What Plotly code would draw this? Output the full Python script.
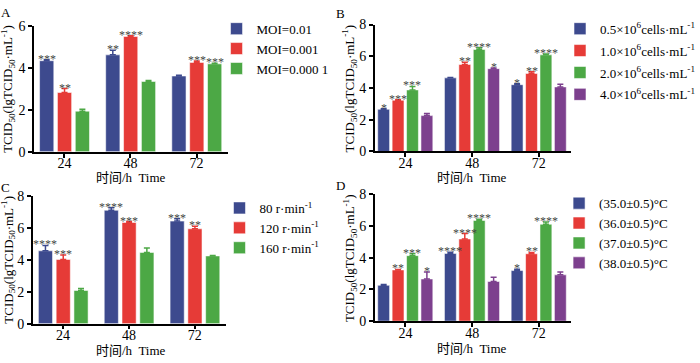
import plotly.graph_objects as go

categories = ["24", "48", "72"]

# Panel A
a_names = ["MOI=0.01", "MOI=0.001", "MOI=0.000 1"]
a_vals = [[4.35, 4.63, 3.62], [2.83, 5.51, 4.27], [1.94, 3.36, 4.20]]
a_errs = [[0.05, 0.22, 0.03], [0.19, 0.03, 0.07], [0.09, 0.04, 0.03]]
a_sigs = [["***", "**", ""], ["**", "****", "***"], ["", "", "***"]]

# Panel B
b_names = ["0.5×10<sup>6</sup>cells·mL<sup>-1</sup>", "1.0×10<sup>6</sup>cells·mL<sup>-1</sup>",
           "2.0×10<sup>6</sup>cells·mL<sup>-1</sup>", "4.0×10<sup>6</sup>cells·mL<sup>-1</sup>"]
b_vals = [[2.66, 4.64, 4.21], [3.23, 5.48, 4.92], [3.88, 6.43, 6.09], [2.26, 5.22, 4.07]]
b_errs = [[0.04, 0.02, 0.06], [0.03, 0.14, 0.10], [0.22, 0.10, 0.05], [0.13, 0.04, 0.16]]
b_sigs = [["*", "", "*"], ["***", "**", "**"], ["***", "****", "****"], ["", "*", ""]]

# Panel C
c_names = ["80 r·min<sup>-1</sup>", "120 r·min<sup>-1</sup>", "160 r·min<sup>-1</sup>"]
c_vals = [[4.56, 7.10, 6.42], [4.02, 6.34, 5.94], [2.08, 4.46, 4.24]]
c_errs = [[0.34, 0.16, 0.14], [0.28, 0.05, 0.16], [0.12, 0.28, 0.02]]
c_sigs = [["****", "****", "***"], ["***", "***", "**"], ["", "", ""]]

# Panel D
d_names = ["(35.0±0.5)°C", "(36.0±0.5)°C", "(37.0±0.5)°C", "(38.0±0.5)°C"]
d_vals = [[2.26, 4.27, 3.19], [3.23, 5.18, 4.25], [4.13, 6.35, 6.11], [2.66, 2.50, 2.92]]
d_errs = [[0.05, 0.08, 0.08], [0.03, 0.34, 0.08], [0.12, 0.08, 0.14], [0.44, 0.26, 0.18]]
d_sigs = [["", "****", "*"], ["**", "****", "**"], ["***", "****", "****"], ["*", "", ""]]

y_title = "TCID<sub>50</sub>(lgTCID<sub>50</sub>·mL<sup>-1</sup>)"
x_title = "时间/h  Time"

colors = ["#3d4a8e", "#e63b37", "#4ca845", "#7d408e"]
FONT = "Liberation Serif, Times New Roman, Noto Sans CJK SC, serif"

W, H = 700, 363

def px(x):
    return x / W

def py(y):
    return 1 - y / H

panels = [
    dict(names=a_names, vals=a_vals, errs=a_errs, sigs=a_sigs, n="", ymax=6,
         xd=(34.5, 232), yd=(151, 20), start=-0.375, step=0.27, width=0.215,
         leg=(220, 7), lfs=13, gap=0, letter=("A", 6, 6), xt=(133, 178), yt=8),
    dict(names=b_names, vals=b_vals, errs=b_errs, sigs=b_sigs, n="2", ymax=8,
         xd=(380.7, 580), yd=(150.7, 18.3), start=-0.415, step=0.216, width=0.178,
         leg=(569, 7), lfs=13, gap=2, letter=("B", 346, 7), xt=(480, 178), yt=355),
    dict(names=c_names, vals=c_vals, errs=c_errs, sigs=c_sigs, n="3", ymax=8,
         xd=(33.3, 230), yd=(330.3, 197), start=-0.375, step=0.27, width=0.215,
         leg=(223, 194), lfs=13, gap=0, letter=("C", 6, 188), xt=(133, 358), yt=8),
    dict(names=d_names, vals=d_vals, errs=d_errs, sigs=d_sigs, n="4", ymax=8,
         xd=(380.7, 580), yd=(327.7, 195.3), start=-0.415, step=0.216, width=0.178,
         leg=(568, 189), lfs=13, gap=0, letter=("D", 346, 186), xt=(480, 356), yt=355),
]

fig = go.Figure()
annotations = []
layout = {}

for p in panels:
    n = p["n"]
    xa, ya = "x" + n, "y" + n
    legname = "legend" + n
    for i, name in enumerate(p["names"]):
        off = p["start"] + i * p["step"]
        fig.add_trace(go.Bar(
            x=categories, y=p["vals"][i], name=name,
            xaxis=xa, yaxis=ya, legend=legname, legendgroup=legname + str(i),
            offset=off, width=p["width"],
            marker=dict(color=colors[i], line=dict(color="rgba(255,255,255,0.55)", width=1)),
            error_y=dict(type="data", symmetric=False, array=p["errs"][i],
                         arrayminus=[0] * len(categories), color=colors[i],
                         thickness=1.5, width=3),
        ))
        for j, s in enumerate(p["sigs"][i]):
            if s:
                annotations.append(dict(
                    x=j + off + p["width"] / 2, y=p["vals"][i][j] + p["errs"][i][j],
                    xref=xa, yref=ya, text=s, showarrow=False,
                    yanchor="bottom", xanchor="center", yshift=-8,
                    font=dict(family=FONT, size=12, color="#444444")))
    axkey = "xaxis" + n
    aykey = "yaxis" + n
    layout[axkey] = dict(
        domain=[px(p["xd"][0]), px(p["xd"][1])], anchor=ya,
        range=[-0.46, 2.48], type="category",
        showline=True, linecolor="black", linewidth=1.5,
        ticks="outside", ticklen=4, tickwidth=1.5, tickcolor="black",
        ticklabelstandoff=-6,
        showgrid=False, zeroline=False,
        tickfont=dict(family=FONT, size=14, color="black"))
    layout[aykey] = dict(
        domain=[py(p["yd"][0]), py(p["yd"][1])], anchor=xa,
        range=[0, p["ymax"]], dtick=2,
        showline=True, linecolor="black", linewidth=1.5,
        ticks="outside", ticklen=4, tickwidth=1.5, tickcolor="black",
        showgrid=False, zeroline=False,
        tickfont=dict(family=FONT, size=14, color="black"))
    layout[legname] = dict(
        x=px(p["leg"][0]), y=py(p["leg"][1]), xanchor="left", yanchor="top",
        bgcolor="rgba(0,0,0,0)", tracegroupgap=p["gap"],
        font=dict(family=FONT, size=p["lfs"], color="black"))
    # titles
    annotations.append(dict(
        x=px(p["xt"][0]), y=py(p["xt"][1]), xref="paper", yref="paper",
        text=x_title, showarrow=False, xanchor="center", yanchor="middle",
        font=dict(family=FONT, size=13, color="black")))
    ymid = (p["yd"][0] + p["yd"][1]) / 2
    annotations.append(dict(
        x=px(p["yt"]), y=py(ymid), xref="paper", yref="paper",
        text=y_title, showarrow=False, textangle=-90, xanchor="center", yanchor="middle",
        font=dict(family=FONT, size=13, color="black")))
    annotations.append(dict(
        x=px(p["letter"][1]), y=py(p["letter"][2]), xref="paper", yref="paper",
        text=p["letter"][0], showarrow=False, xanchor="center", yanchor="middle",
        font=dict(family=FONT, size=13, color="black")))

fig.update_layout(
    width=W, height=H, margin=dict(l=0, r=0, t=0, b=0),
    paper_bgcolor="white", plot_bgcolor="white",
    barmode="overlay", showlegend=True,
    annotations=annotations, **layout)

fig.write_html("out.html", config={"displayModeBar": False},
               post_script="document.body.style.margin='0';document.body.style.overflow='hidden';")
